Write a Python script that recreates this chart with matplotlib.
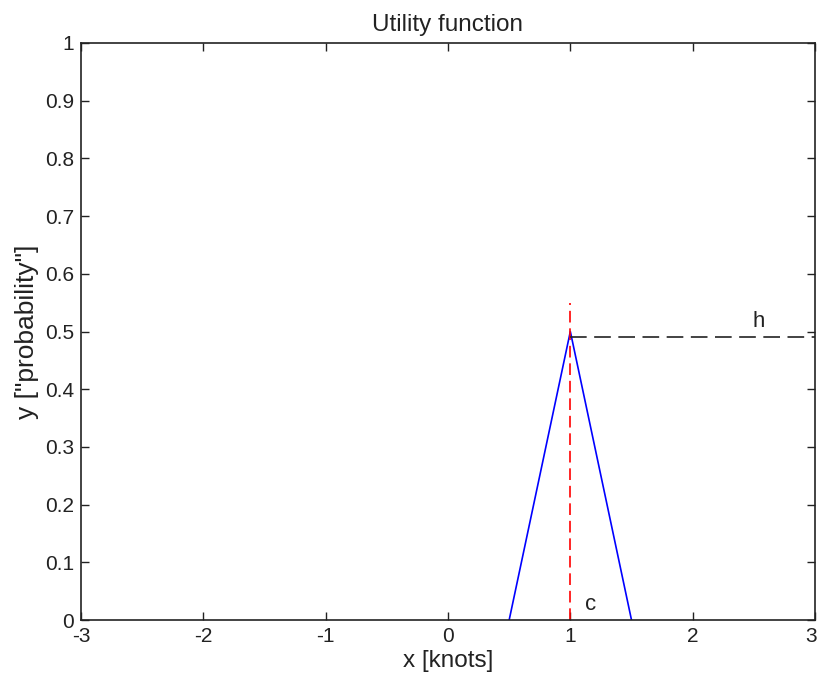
import matplotlib.pyplot as plt
import matplotlib.transforms as mtransforms

# datos de la función de utilidad (triángulo)
x_tri = [0.5, 1.0, 1.5]
y_tri = [0.0, 0.5, 0.0]
# línea vertical c y horizontal h
x_c = [1.0, 1.0]
y_c = [0.0, 0.55]
x_h = [1.0, 3.0]
y_h = [0.49, 0.49]
xticks = [-3, -2, -1, 0, 1, 2, 3]
yticks = [0, 0.1, 0.2, 0.3, 0.4, 0.5, 0.6, 0.7, 0.8, 0.9, 1]

plt.rcParams['font.family'] = ['Liberation Sans', 'DejaVu Sans']
fig = plt.figure(figsize=(8.19, 6.87), dpi=100)
ax = fig.add_axes([81 / 819, 1 - 620 / 687, 734 / 819, 577 / 687])

ax.plot(x_tri, y_tri, color='#0000ff', linewidth=1.2)
ax.plot(x_c, y_c, color='#ff0000', linestyle=(0, (7, 3.5)), linewidth=1.2)
ax.plot(x_h, y_h, color='#222222', linestyle=(0, (10, 4.5)), linewidth=1.2)
ax.text(2.49, 0.508, 'h', fontsize=16, color='#222222')
ax.text(1.12, 0.018, 'c', fontsize=16, color='#222222')

ax.set_xlim(-3, 3)
ax.set_ylim(0, 1)
ax.set_xticks(xticks)
ax.set_yticks(yticks)
ax.set_xticklabels([str(t) for t in xticks])
ax.set_yticklabels(['0' if t == 0 else ('1' if t == 1 else str(t)) for t in yticks])
ax.tick_params(direction='in', top=True, right=True, length=6, width=1,
               labelsize=15, pad=5, colors='#222222')
for s in ax.spines.values():
    s.set_linewidth(1.2)
    s.set_color('#222222')

# el último "3" queda pegado al borde, lo muevo un poco a la izquierda
ultimo = ax.get_xticklabels()[-1]
ultimo.set_transform(ultimo.get_transform() + mtransforms.ScaledTranslation(-3 / 72, 0, fig.dpi_scale_trans))

ax.set_title('Utility function', fontsize=17.5, pad=9, color='#222222')
ax.set_xlabel('x [knots]', fontsize=17.5, labelpad=3, color='#222222')
ax.set_ylabel('y ["probability"]', fontsize=19, labelpad=4, color='#222222')

plt.savefig('out.png')
